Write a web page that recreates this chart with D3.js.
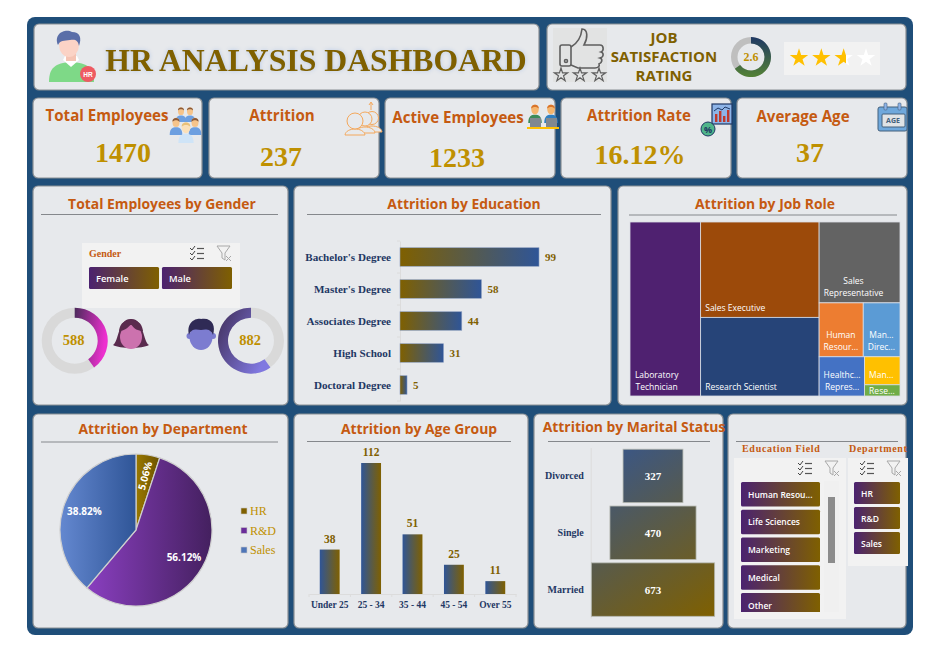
<!DOCTYPE html>
<html>
<head>
<meta charset="utf-8">
<script src="https://cdn.jsdelivr.net/npm/d3@7"></script>
<style>
body { margin: 0; background: #fff; }
svg { display: block; }
</style>
</head>
<body>
<script>
// values
var kpiNames = ["Total Employees", "Attrition", "Active Employees", "Attrition Rate", "Average Age"];
var kpiValues = ["1470", "237", "1233", "16.12%", "37"];

var genders = ["Female", "Male"];
var genderCounts = [588, 882];
var totalEmployees = 1470;

var educationLevels = ["Bachelor's Degree", "Master's Degree", "Associates Degree", "High School", "Doctoral Degree"];
var educationAttrition = [99, 58, 44, 31, 5];

var jobRoles = ["Laboratory Technician", "Sales Executive", "Research Scientist", "Sales Representative", "Human Resources", "Manufacturing Director", "Healthcare Representative", "Manager", "Research Director"];
var jobRoleLabels = [["Laboratory", "Technician"], ["Sales Executive"], ["Research Scientist"], ["Sales", "Representative"], ["Human", "Resour..."], ["Man...", "Direc..."], ["Healthc...", "Repres..."], ["Man..."], ["Rese..."]];
var jobRoleAttrition = [62, 57, 47, 33, 12, 10, 9, 5, 2];
var jobRoleColors = ["#4f2170", "#9c4a0a", "#264478", "#636363", "#ed7d31", "#5b9bd5", "#4472c4", "#ffc000", "#70ad47"];

var departments = ["HR", "R&D", "Sales"];
var departmentShare = [5.06, 56.12, 38.82];

var ageGroups = ["Under 25", "25 - 34", "35 - 44", "45 - 54", "Over 55"];
var ageAttrition = [38, 112, 51, 25, 11];

var maritalStatus = ["Divorced", "Single", "Married"];
var maritalCounts = [327, 470, 673];

var educationFields = ["Human Resou...", "Life Sciences", "Marketing", "Medical", "Other"];
var jobSatisfaction = 2.6;
var satisfactionMax = 4;

var SERIF = "'Liberation Serif', serif", SANS = "'Open Sans', sans-serif";
var ORANGE = "#c55a11", GOLD = "#bf9000", OLIVE = "#7f6000", NAVY = "#1f3864";

var svg = d3.select("body").append("svg").attr("width", 927).attr("height", 645);
var defs = svg.append("defs");

function gradient(id, c1, c2, x1, y1, x2, y2) {
    var g = defs.append("linearGradient").attr("id", id)
	.attr("x1", x1 || 0).attr("y1", y1 || 0).attr("x2", x2 === undefined ? 1 : x2).attr("y2", y2 || 0);
    g.append("stop").attr("offset", 0).attr("stop-color", c1);
    g.append("stop").attr("offset", 1).attr("stop-color", c2);
    return g;
}
gradient("goldBlue", "#7f6000", "#2f5597");
gradient("blueGold", "#2f5597", "#7f6000");
gradient("slicer", "#4b2270", "#7f6000");
gradient("femaleArc", "#4a2a5a", "#ee30d0", 0, 0, 1, 0.25);
gradient("maleArc", "#3f2d58", "#8078e0", 0, 0, 1, 0.6);
gradient("ratingArc", "#1f3864", "#548235", 0, 0, 0, 1);
gradient("pieHR", "#9a7800", "#6b5200");
gradient("pieRD", "#8a3fc0", "#44205f");
gradient("pieSales", "#6488d0", "#2f5597");
defs.append("linearGradient").attr("id", "marital").attr("gradientUnits", "userSpaceOnUse")
    .attr("x1", 600).attr("y1", 449).attr("x2", 715).attr("y2", 616)
    .call(function(g) {
	g.append("stop").attr("offset", 0).attr("stop-color", "#37568c");
	g.append("stop").attr("offset", 1).attr("stop-color", "#7f6000");
    });
var starStop = gradient("starPart", "#ffc000", "#fff");

function rect(p, x, y, w, h, fill, r) {
    return p.append("rect").attr("x", x).attr("y", y).attr("width", w).attr("height", h)
	.attr("fill", fill).attr("rx", r || 0);
}
function text(p, str, x, y, size, color, opt) {
    opt = opt || {};
    return p.append("text").attr("x", x).attr("y", y).text(str)
	.attr("font-family", opt.family || SANS).attr("font-size", size)
	.attr("font-weight", opt.weight || "bold").attr("fill", color)
	.attr("text-anchor", opt.anchor || "middle").attr("dominant-baseline", "central");
}
function panel(x, y, x2, y2) {
    rect(svg, x, y, x2 - x, y2 - y, "#e7e9ec", 5).attr("stroke", "#8a8f94").attr("stroke-width", 1.2);
}
function line(p, x1, y1, x2, y2, color, w) {
    return p.append("line").attr("x1", x1).attr("y1", y1).attr("x2", x2).attr("y2", y2)
	.attr("stroke", color).attr("stroke-width", w || 1);
}
function chartTitle(str, cx, cy, x1, x2, ly) {
    text(svg, str, cx, cy, 13.9, ORANGE);
    line(svg, x1, ly, x2, ly, "#85888c");
}

// background + panels
rect(svg, 27, 17, 886, 618, "#1f4e79", 8);
[[34, 24, 539, 90], [547, 24, 906, 90],
 [33, 98, 202, 178], [209, 98, 379, 178], [385, 98, 555, 178], [561, 98, 731, 178], [737, 98, 907, 178],
 [33, 186, 288, 405], [294, 186, 611, 405], [618, 186, 907, 405],
 [33, 414, 288, 628], [294, 414, 528, 628], [534, 414, 723, 628], [728, 414, 906, 628]]
    .forEach(function(b) { panel(b[0], b[1], b[2], b[3]); });

// ---- small icons
function person(p, x, y, s, skin, hair, body) {
    var g = p.append("g").attr("transform", "translate(" + x + "," + y + ") scale(" + s + ")");
    g.append("path").attr("d", "M-9 20 C-9 11 -5 9 0 9 C5 9 9 11 9 20 Z").attr("fill", body);
    g.append("ellipse").attr("cx", 0).attr("cy", 2).attr("rx", 5).attr("ry", 6.5).attr("fill", skin);
    g.append("path").attr("d", "M-5 1 C-6 -6 6 -6 5 1 C3 -2 -3 -2 -5 1 Z").attr("fill", hair);
    return g;
}
// header avatar
var av = svg.append("g");
av.append("path").attr("d", "M49 82 C49 68 55 63 71 62 C88 63 94 68 94 82 Z").attr("fill", "#7ed987");
av.append("path").attr("d", "M63 60 L71 67 L79 60 L77 56 L65 56 Z").attr("fill", "#fff");
av.append("rect").attr("x", 66).attr("y", 52).attr("width", 10).attr("height", 9).attr("fill", "#f5c4b4");
av.append("ellipse").attr("cx", 69).attr("cy", 45).attr("rx", 10).attr("ry", 12).attr("fill", "#fbd3c6");
av.append("path").attr("d", "M58 45 C53 33 66 28 72 32 C80 32 82 38 79 46 C78 40 75 39 70 40 C64 41 60 40 58 45 Z").attr("fill", "#5a6ea8");
av.append("circle").attr("cx", 88).attr("cy", 74).attr("r", 8).attr("fill", "#ee5a62");
text(av, "HR", 88, 74, 6.5, "#fff", {family: "'Liberation Sans', sans-serif"});

// total employees
var ic = svg.append("g");
person(ic, 181, 110, 0.6, "#f6c48a", "#8a5a3a", "#6d9fe0");
person(ic, 190, 110, 0.6, "#f6c48a", "#8a5a3a", "#6d9fe0");
person(ic, 176, 121, 0.7, "#f6c48a", "#8a5a3a", "#6d9fe0");
person(ic, 195, 121, 0.7, "#f6c48a", "#8a5a3a", "#6d9fe0");
person(ic, 186, 126, 0.85, "#fbe0b8", "#e9c078", "#cfe4f7");

// attrition, orange outlines, back to front
[[372, 118, 6.5], [365, 119, 7], [355, 121, 8]].forEach(function(c) {
    var g = svg.append("g").attr("fill", "#e7e9ec").attr("stroke", "#f4a85c").attr("stroke-width", 1);
    g.append("path").attr("d", "M" + (c[0] - 10) + " " + (c[1] + 14) + " C" + (c[0] - 9) + " " + (c[1] + 6) + " " + (c[0] + 9) + " " + (c[1] + 6) + " " + (c[0] + 10) + " " + (c[1] + 14) + " Z");
    g.append("circle").attr("cx", c[0]).attr("cy", c[1]).attr("r", c[2]);
});
line(svg, 371, 103, 371, 110, "#f4a85c");
svg.append("path").attr("d", "M369 105 L371 102 L373 105").attr("fill", "none").attr("stroke", "#f4a85c");

// active employees
person(svg, 535, 108, 0.75, "#f5b56d", "#d9742a", "#3c8a5a");
person(svg, 551, 108, 0.75, "#f5b56d", "#d9742a", "#2f7fc1");
rect(svg, 530, 118, 11, 9, "#808890");
rect(svg, 546, 118, 11, 9, "#808890");
rect(svg, 527, 127, 32, 2, "#ffc000");

// attrition rate
rect(svg, 712, 104, 20, 20, "#8db4e8").attr("stroke", "#1f3864").attr("stroke-width", 1.2);
svg.append("g").selectAll("rect").data([8, 11, 6, 12]).join("rect")
    .attr("x", function(d, i) { return 715 + i * 4; }).attr("y", function(d) { return 122 - d; })
    .attr("width", 2.4).attr("height", function(d) { return d; }).attr("fill", "#c0392b");
svg.append("path").attr("d", "M714 111 L718 108 L722 110 L725 107 L730 109").attr("fill", "none").attr("stroke", "#1f3864");
svg.append("circle").attr("cx", 708).attr("cy", 129).attr("r", 7).attr("fill", "#4fb58b").attr("stroke", "#1f3864");
text(svg, "%", 708, 129, 9, "#1f3864");

// calendar
rect(svg, 878, 107, 29, 24, "#6fa8dc", 2).attr("stroke", "#44607c");
rect(svg, 882, 114, 23, 13, "#dfe3e6", 1).attr("stroke", "#44607c");
rect(svg, 884, 103, 3, 7, "#8db4e8", 1).attr("stroke", "#44607c").attr("stroke-width", 0.6);
rect(svg, 898, 103, 3, 7, "#8db4e8", 1).attr("stroke", "#44607c").attr("stroke-width", 0.6);
text(svg, "AGE", 893, 120.5, 7, "#44607c");

// title bar
text(svg, "HR ANALYSIS DASHBOARD", 316, 60, 31.7, OLIVE, {family: SERIF})
    .style("filter", "drop-shadow(0 0 2px #b4c7e7)");

// satisfaction panel
rect(svg, 553, 28, 54, 54, "#e2e3e3");
var thumb = svg.append("g").attr("fill", "none").attr("stroke", "#5f5f5f").attr("stroke-width", 1.6);
thumb.append("rect").attr("x", 560).attr("y", 45).attr("width", 11).attr("height", 21).attr("rx", 2);
thumb.append("circle").attr("cx", 566).attr("cy", 61).attr("r", 1.5);
thumb.append("path").attr("d", "M571 47 C578 43 581 38 582 29 C588 29 588 38 584 45 L600 45 C604 45 604 51 601 52 C604 53 604 57 600 58 C603 59 602 63 599 64 C600 66 598 68 595 68 L578 68 L571 65");
var emptyStar = d3.symbol().type(d3.symbolStar).size(55);
svg.append("g").selectAll("path").data([561, 580, 599]).join("path")
    .attr("d", emptyStar)
    .attr("transform", function(d) { return "translate(" + d + ",75)"; })
    .attr("fill", "none").attr("stroke", "#5f5f5f").attr("stroke-width", 1.2);

["JOB", "SATISFACTION", "RATING"].forEach(function(s, i) {
    text(svg, s, 664, 37 + i * 19, 15, OLIVE);
});

var ratingArc = d3.arc().innerRadius(13.5).outerRadius(20);
var ratingG = svg.append("g").attr("transform", "translate(751,57)");
ratingG.append("path").attr("d", ratingArc({startAngle: 0, endAngle: 2 * Math.PI})).attr("fill", "#bfbfbf");
ratingG.append("path").attr("d", ratingArc({startAngle: 0, endAngle: 2 * Math.PI * jobSatisfaction / satisfactionMax})).attr("fill", "url(#ratingArc)");
text(ratingG, jobSatisfaction, 0, 0, 12, GOLD, {family: SERIF});

rect(svg, 784, 42, 96, 33, "#f2f2f2");
var starX = d3.scalePoint().domain(d3.range(satisfactionMax)).range([799, 866]);
var starShape = d3.symbol().type(d3.symbolStar).size(105);
// hard edge inside the third star = the fraction of the rating
var frac = jobSatisfaction - Math.floor(jobSatisfaction);
starStop.selectAll("stop").remove();
[[0, "#ffc000"], [frac, "#ffc000"], [frac, "#fff"], [1, "#fff"]].forEach(function(s) {
    starStop.append("stop").attr("offset", s[0]).attr("stop-color", s[1]);
});
svg.append("g").selectAll("path").data(d3.range(satisfactionMax)).join("path")
    .attr("d", starShape)
    .attr("transform", function(d) { return "translate(" + starX(d) + ",58)"; })
    .attr("fill", function(d) {
	if (d < Math.floor(jobSatisfaction)) return "#ffc000";
	return d == Math.floor(jobSatisfaction) ? "url(#starPart)" : "#fff";
    });

// KPI cards
var kpiTitleX = [107, 282, 458, 639, 803], kpiTitleY = [115, 115, 117, 115, 116];
var kpiValueX = [123, 281, 457, 640, 810], kpiValueY = [152, 156, 157, 154, 152];
kpiNames.forEach(function(n, i) {
    text(svg, n, kpiTitleX[i], kpiTitleY[i], 15.1, ORANGE);
    text(svg, kpiValues[i], kpiValueX[i], kpiValueY[i], 28, GOLD, {family: SERIF});
});

// ---- slicers
function slicerIcons(x, y) {
    var g = svg.append("g").attr("transform", "translate(" + x + "," + y + ")");
    [0, 5, 10].forEach(function(d) {
	g.append("path").attr("d", "M0 " + (d + 1) + " L2 " + (d + 3) + " L5 " + (d - 1)).attr("fill", "none").attr("stroke", "#444");
	line(g, 7, d + 1.5, 14, d + 1.5, "#555", 1.2);
    });
    g.append("path").attr("d", "M27 -1 L40 -1 L35 6 L35 13 L32 11 L32 6 Z").attr("fill", "none").attr("stroke", "#a8a8a8");
    g.append("path").attr("d", "M36 9 L41 14 M41 9 L36 14").attr("stroke", "#a8a8a8");
}
function slicerButtons(list, x, w, yScale, h, fontSize) {
    svg.append("g").selectAll("rect").data(list).join("rect")
	.attr("x", x).attr("y", function(d) { return yScale(d); })
	.attr("width", w).attr("height", h).attr("rx", 1.5).attr("fill", "url(#slicer)");
    svg.append("g").selectAll("text").data(list).join("text")
	.attr("x", x + 7).attr("y", function(d) { return yScale(d) + h / 2; })
	.attr("dominant-baseline", "central").attr("font-family", SANS).attr("font-weight", 600)
	.attr("font-size", fontSize).attr("fill", "#fff").text(function(d) { return d; });
}

// ---- gender
chartTitle("Total Employees by Gender", 162, 203, 41, 278, 214.5);
rect(svg, 82, 243, 158, 65, "#f2f2f2");
text(svg, "Gender", 89, 253, 10, ORANGE, {family: SERIF, anchor: "start"});
slicerIcons(190, 247);
var genderX = d3.scaleBand().domain(genders).range([89, 232]).paddingInner(0.04);
genders.forEach(function(g) {
    slicerButtons([g], genderX(g), genderX.bandwidth(), function() { return 267; }, 22, 9.3);
});

var genderArc = d3.arc().innerRadius(23).outerRadius(33);
var genderCx = [74.7, 251], genderFill = ["url(#femaleArc)", "url(#maleArc)"], genderSign = [1, -1];
genders.forEach(function(g, i) {
    var c = svg.append("g").attr("transform", "translate(" + genderCx[i] + ",340.7)");
    c.append("path").attr("d", genderArc({startAngle: 0, endAngle: 2 * Math.PI})).attr("fill", "#d9d9d9");
    var a = genderSign[i] * 2 * Math.PI * genderCounts[i] / totalEmployees;
    c.append("path").attr("d", genderArc({startAngle: Math.min(0, a), endAngle: Math.max(0, a)})).attr("fill", genderFill[i]);
    text(c, genderCounts[i], -1, -1, 14.5, GOLD, {family: SERIF});
});
// faces
svg.append("path").attr("d", "M113 345 C119 342 118 318 131 319 C144 318 143 342 149 345 C142 349 120 349 113 345 Z").attr("fill", "#5a2b4e");
svg.append("ellipse").attr("cx", 131).attr("cy", 337).attr("rx", 11).attr("ry", 12).attr("fill", "#cc72ae");
svg.append("path").attr("d", "M119 331 C124 331 128 328 131 324 C134 329 138 331 143 331 C142 322 136 320 131 320 C126 320 120 322 119 331 Z").attr("fill", "#5a2b4e");
svg.append("circle").attr("cx", 189.5).attr("cy", 336).attr("r", 3).attr("fill", "#7c7cd0");
svg.append("circle").attr("cx", 213).attr("cy", 336).attr("r", 3).attr("fill", "#7c7cd0");
svg.append("ellipse").attr("cx", 201).attr("cy", 337).attr("rx", 11.5).attr("ry", 13).attr("fill", "#7c7cd0");
svg.append("path").attr("d", "M189 335 C186 322 196 318 201 319 C212 317 216 326 213 335 C211 329 206 329 201 330 C195 329 191 329 189 335 Z").attr("fill", "#2f2a55");

// ---- education bars
chartTitle("Attrition by Education", 464, 203, 307, 601, 214.5);
var eduX = d3.scaleLinear().domain([0, 99]).range([400, 539]);
var eduY = d3.scaleBand().domain(educationLevels).range([241, 401]).paddingInner(0.42).paddingOuter(0.21);
var eduAxis = svg.append("g").attr("transform", "translate(400,0)")
    .call(d3.axisLeft(eduY).tickSize(0).tickPadding(9));
eduAxis.select(".domain").attr("stroke", "#dcdcdc");
eduAxis.selectAll("text").attr("font-family", SERIF).attr("font-weight", "bold").attr("font-size", 11.1).attr("fill", NAVY);
d3.range(6).forEach(function(i) {
    var y = 241 + i * eduY.step();
    line(svg, 397, y, 400, y, "#dcdcdc");
});
svg.append("g").selectAll("rect").data(educationLevels).join("rect")
    .attr("x", eduX(0)).attr("y", function(d) { return eduY(d); })
    .attr("width", function(d, i) { return eduX(educationAttrition[i]) - eduX(0); })
    .attr("height", eduY.bandwidth())
    .attr("fill", "url(#goldBlue)").attr("stroke", "#8ea0c0").attr("stroke-width", 0.6);
svg.append("g").selectAll("text").data(educationLevels).join("text")
    .attr("x", function(d, i) { return eduX(educationAttrition[i]) + 6; })
    .attr("y", function(d) { return eduY(d) + eduY.bandwidth() / 2; })
    .attr("dominant-baseline", "central").attr("font-family", SERIF).attr("font-weight", "bold")
    .attr("font-size", 11).attr("fill", OLIVE)
    .text(function(d, i) { return educationAttrition[i]; });

// ---- job role treemap
chartTitle("Attrition by Job Role", 765, 203, 629, 897, 215);
function leaf(i) { return {i: i, value: jobRoleAttrition[i]}; }
var roleTree = {children: [
    leaf(0),
    {children: [leaf(1), leaf(2)]},
    {children: [leaf(3),
	{children: [leaf(4), leaf(5)]},
	{children: [leaf(6), {children: [leaf(7), leaf(8)]}]}]}
]};
var roleRoot = d3.hierarchy(roleTree).sum(function(d) { return d.value || 0; });
d3.treemap().size([270, 174]).tile(d3.treemapSliceDice)(roleRoot);
var treeG = svg.append("g").attr("transform", "translate(630,222)");
var cells = treeG.selectAll("g").data(roleRoot.leaves()).join("g");
cells.append("rect")
    .attr("x", function(d) { return d.x0; }).attr("y", function(d) { return d.y0; })
    .attr("width", function(d) { return d.x1 - d.x0; }).attr("height", function(d) { return d.y1 - d.y0; })
    .attr("fill", function(d) { return jobRoleColors[d.data.i]; })
    .attr("stroke", "#d9dde4").attr("stroke-width", 0.8);
cells.each(function(d) {
    var lines = jobRoleLabels[d.data.i];
    // thin cells get their label pushed down to fit
    var bottom = d.y1 - d.y0 < 15 ? 2.5 : 6.5;
    var t = d3.select(this).append("text").attr("font-family", SANS).attr("font-size", 8.5)
	.attr("fill", "#fff").attr("text-anchor", "middle");
    lines.forEach(function(s, i) {
	t.append("tspan").attr("x", 0).attr("y", d.y1 - bottom - (lines.length - 1 - i) * 12).text(s);
    });
    var w = t.node().getBBox().width;
    t.attr("transform", "translate(" + (d.x0 + 4.5 + w / 2) + ",0)");
});

// ---- department pie
chartTitle("Attrition by Department", 163, 428, 41, 278, 442);
var pieData = d3.pie().sort(null)(departmentShare);
var pieArc = d3.arc().innerRadius(0).outerRadius(76);
var labelArc = d3.arc().innerRadius(55).outerRadius(55);
var pieG = svg.append("g").attr("transform", "translate(136,530)");
var pieFills = ["url(#pieHR)", "url(#pieRD)", "url(#pieSales)"];
pieG.selectAll("path").data(pieData).join("path")
    .attr("d", pieArc).attr("fill", function(d, i) { return pieFills[i]; })
    .attr("stroke", "#cfcfcf").attr("stroke-width", 1.2);
pieG.selectAll("text").data(pieData).join("text")
    .attr("transform", function(d, i) {
	var c = labelArc.centroid(d);
	return "translate(" + c[0] + "," + c[1] + ")" + (i == 0 ? " rotate(-75)" : "");
    })
    .attr("text-anchor", "middle").attr("dominant-baseline", "central")
    .attr("font-family", SANS).attr("font-weight", "bold").attr("font-size", 10).attr("fill", "#fff")
    .text(function(d, i) { return departmentShare[i].toFixed(2) + "%"; });
var legY = d3.scalePoint().domain(departments).range([511, 550]);
var legSw = ["#7f6000", "#6a2d9a", "#4f76b8"];
departments.forEach(function(d, i) {
    rect(svg, 241, legY(d) - 3, 6, 6, legSw[i]).attr("stroke", "#c8c8c8").attr("stroke-width", 0.6);
    text(svg, d, 250, legY(d), 12, GOLD, {family: SERIF, anchor: "start", weight: "normal"});
});

// ---- age group columns
chartTitle("Attrition by Age Group", 419, 428, 307, 511, 441.5);
var ageX = d3.scaleBand().domain(ageGroups).range([309, 516]).paddingInner(0.52).paddingOuter(0.26);
var ageY = d3.scaleLinear().domain([0, 112]).range([594, 463]);
var ageAxis = svg.append("g").attr("transform", "translate(0,594)")
    .call(d3.axisBottom(ageX).tickSize(0).tickPadding(7));
ageAxis.select(".domain").attr("stroke", "#dcdcdc");
ageAxis.selectAll("text").attr("font-family", SERIF).attr("font-weight", "bold").attr("font-size", 9.5).attr("fill", NAVY);
d3.range(6).forEach(function(i) {
    var x = 309 + i * ageX.step();
    line(svg, x, 594, x, 597, "#dcdcdc");
});
svg.append("g").selectAll("rect").data(ageGroups).join("rect")
    .attr("x", function(d) { return ageX(d); })
    .attr("y", function(d, i) { return ageY(ageAttrition[i]); })
    .attr("width", ageX.bandwidth())
    .attr("height", function(d, i) { return ageY(0) - ageY(ageAttrition[i]); })
    .attr("fill", "url(#blueGold)");
svg.append("g").selectAll("text").data(ageGroups).join("text")
    .attr("x", function(d) { return ageX(d) + ageX.bandwidth() / 2; })
    .attr("y", function(d, i) { return ageY(ageAttrition[i]) - 11; })
    .attr("text-anchor", "middle").attr("dominant-baseline", "central")
    .attr("font-family", SERIF).attr("font-weight", "bold").attr("font-size", 11.5).attr("fill", OLIVE)
    .text(function(d, i) { return ageAttrition[i]; });

// ---- marital funnel
chartTitle("Attrition by Marital Status", 634, 426, 548, 710, 441.5);
var marW = d3.scaleLinear().domain([0, 673]).range([0, 123.3]);
var marY = d3.scaleBand().domain(maritalStatus).range([447.5, 618]).paddingInner(0.06).paddingOuter(0.03);
var marAxis = svg.append("g").attr("transform", "translate(590.7,0)")
    .call(d3.axisLeft(marY).tickSize(0).tickPadding(7));
marAxis.select(".domain").attr("stroke", "#dcdcdc");
marAxis.selectAll("text").attr("font-family", SERIF).attr("font-weight", "bold").attr("font-size", 10).attr("fill", NAVY);
svg.append("g").selectAll("rect").data(maritalStatus).join("rect")
    .attr("x", function(d, i) { return 653 - marW(maritalCounts[i]) / 2; })
    .attr("y", function(d) { return marY(d); })
    .attr("width", function(d, i) { return marW(maritalCounts[i]); })
    .attr("height", marY.bandwidth())
    .attr("fill", "url(#marital)").attr("stroke", "#b5b8b0").attr("stroke-width", 0.8);
svg.append("g").selectAll("text").data(maritalStatus).join("text")
    .attr("x", 653).attr("y", function(d) { return marY(d) + marY.bandwidth() / 2; })
    .attr("text-anchor", "middle").attr("dominant-baseline", "central")
    .attr("font-family", SERIF).attr("font-weight", "bold").attr("font-size", 11).attr("fill", "#fff")
    .text(function(d, i) { return maritalCounts[i]; });

// ---- right hand slicers
line(svg, 736, 441.5, 898, 441.5, "#85888c");
rect(svg, 734, 458, 112, 161, "#f2f2f2");
rect(svg, 848, 458, 60, 108, "#f2f2f2");
text(svg, "Education Field", 742, 448, 10, ORANGE, {family: SERIF, anchor: "start"}).attr("letter-spacing", 0.7);
text(svg, "Department", 849, 448, 10, ORANGE, {family: SERIF, anchor: "start"}).attr("letter-spacing", 0.7);
slicerIcons(798, 462);
slicerIcons(860, 462);
rect(svg, 824, 481, 15, 131, "#f0f0f0");
rect(svg, 828, 497, 7, 66, "#8c8c8c");
var fieldY = d3.scalePoint().domain(educationFields).range([482, 593]);
// last button is cut off by the slicer
defs.append("clipPath").attr("id", "fieldClip").append("rect").attr("x", 734).attr("y", 458).attr("width", 112).attr("height", 154);
var fieldG = svg.append("g").attr("clip-path", "url(#fieldClip)");
fieldG.selectAll("rect").data(educationFields).join("rect")
    .attr("x", 741).attr("y", function(d) { return fieldY(d); })
    .attr("width", 79).attr("height", 24.5).attr("rx", 1.5).attr("fill", "url(#slicer)");
fieldG.selectAll("text").data(educationFields).join("text")
    .attr("x", 748).attr("y", function(d) { return fieldY(d) + 12; })
    .attr("dominant-baseline", "central").attr("font-family", SANS).attr("font-weight", 600)
    .attr("font-size", 8.5).attr("fill", "#fff").text(function(d) { return d; });
var deptY = d3.scalePoint().domain(departments).range([482, 532]);
slicerButtons(departments, 854, 46, deptY, 22, 8.5);
</script>
</body>
</html>
